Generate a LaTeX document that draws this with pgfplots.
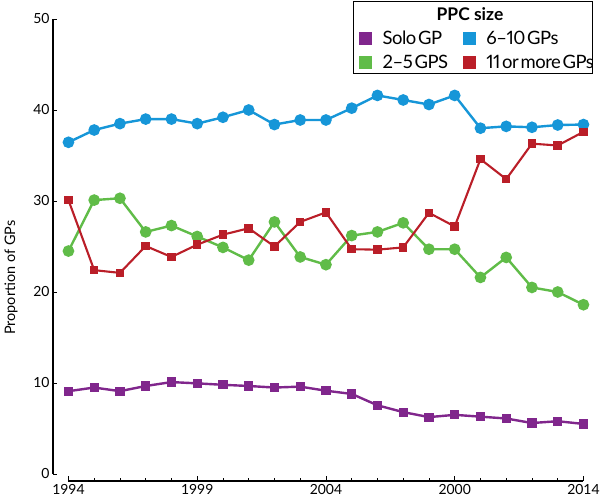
\documentclass[border=0pt]{standalone}
\usepackage{fontspec}
\setmainfont{Lato}
\newfontfamily\legfont{Lato}[LetterSpace=-2.5,WordSpace=0.4,Numbers=Proportional]
\usepackage{pgfplots}
\pgfplotsset{compat=1.18}
\definecolor{cpurple}{RGB}{128,38,140}
\definecolor{cblue}{RGB}{22,150,216}
\definecolor{cgreen}{RGB}{96,188,72}
\definecolor{cred}{RGB}{186,30,40}

\pgfplotstableread{
year solo six two eleven
1994 9.1  36.45 24.5 30.1
1995 9.5  37.8  30.1 22.4
1996 9.1  38.5  30.3 22.1
1997 9.67 39.0  26.6 25.05
1998 10.1 39.0  27.3 23.85
1999 9.96 38.5  26.1 25.2
2000 9.8  39.2  24.9 26.3
2001 9.67 40.0  23.5 27.0
2002 9.5  38.4  27.7 25.0
2003 9.6  38.9  23.85 27.7
2004 9.15 38.9  23.0 28.75
2005 8.8  40.2  26.2 24.7
2006 7.55 41.6  26.6 24.65
2007 6.8  41.1  27.6 24.9
2008 6.25 40.6  24.7 28.7
2009 6.5  41.6  24.7 27.2
2010 6.3  38.0  21.6 34.6
2011 6.1  38.2  23.8 32.4
2012 5.6  38.1  20.5 36.3
2013 5.8  38.35 20.0 36.1
2014 5.5  38.4  18.6 37.6
}\data

\begin{document}
\begin{tikzpicture}
\begin{axis}[
  at={(53bp,22bp)}, anchor=south west,
  x=25.75bp, y=9.1bp,
  xmin=1993.4, xmax=2014.3, ymin=-0.77, ymax=50,
  axis line style={draw=none},
  clip=false,
  tick pos=left,
  xtick={1994,1999,2004,2009,2014},
  xticklabels={1994,1999,2004,2000,2014},
  minor xtick={1995,1996,1997,1998,2000,2001,2002,2003,2005,2006,2007,2008,2010,2011,2012,2013},
  ytick={0,10,20,30,40,50},
  tick align=inside,
  major tick length=4.5bp, minor tick length=2.5bp,
  tick style={black, line width=0.9bp},
  ticklabel style={font=\fontsize{14}{14}\selectfont},
  /pgf/number format/assume math mode=true,
  ylabel={Proportion of GPs},
  ylabel style={font=\fontsize{14.5}{15}\selectfont, at={(axis description cs:-0.078,0.44)}, anchor=center},
  legend columns=2,
  legend cell align=left,
  legend image code/.code={\fill[#1, draw=none] (0bp,-6.5bp) rectangle (13bp,6.5bp); \path (20bp,0bp);},
  legend style={draw=none, fill=none, inner sep=0pt, row sep=5bp,
    at={(axis description cs:0.569,0.979)}, anchor=north west,
    font=\legfont\fontsize{18.5}{18.5}\selectfont,
    /tikz/every even column/.append style={column sep=13bp}},
]
\addplot[cpurple, line width=2.4bp, mark=square*, mark size=3.4bp] table[x=year,y=solo] {\data};
\addlegendentry{Solo GP}
\addplot[cblue, line width=2.4bp, mark=*, mark size=4.6bp] table[x=year,y=six] {\data};
\addlegendentry{6–10 GPs}
\addplot[cgreen, line width=2.4bp, mark=*, mark size=4.6bp] table[x=year,y=two] {\data};
\addlegendentry{2–5 GPS}
\addplot[cred, line width=2.1bp, mark=square*, mark size=3.2bp] table[x=year,y=eleven] {\data};
\addlegendentry{11 or more GPs}
\draw[black, line width=1.2bp] (axis cs:1993.4,0) -- (axis cs:1993.4,50);
\draw[black, line width=1.2bp] (axis cs:1994,-0.77) -- (axis cs:2014,-0.77);
\end{axis}
\draw[black, line width=1bp] (353bp,501bp) rectangle (592bp,429bp);
\node[font=\bfseries\fontsize{17.5}{18}\selectfont] at (470bp,489bp) {PPC size};
\pgfresetboundingbox
\useasboundingbox (0,0) rectangle (600bp,503bp);
\end{tikzpicture}
\end{document}
